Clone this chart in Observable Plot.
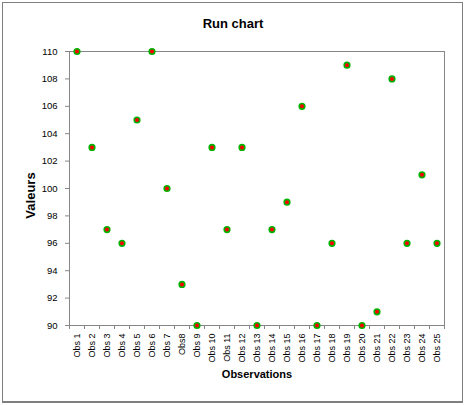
<!DOCTYPE html>
<html>
<head>
<meta charset="utf-8">
<script src="https://cdn.jsdelivr.net/npm/d3@7"></script>
<script src="https://cdn.jsdelivr.net/npm/@observablehq/plot@0.6"></script>
<style>
  html, body { margin: 0; padding: 0; background: #fff; }
  #wrap { position: relative; width: 464px; height: 405px; overflow: hidden; }
  #border { position: absolute; left: 2px; top: 2px; width: 459px; height: 398px; border: 1px solid #7f7f7f; border-bottom-width: 2px; pointer-events: none; }
</style>
</head>
<body>
<div id="wrap"><div id="border"></div></div>
<script>
const categories = ["Obs 1","Obs 2","Obs 3","Obs 4","Obs 5","Obs 6","Obs 7","Obs8","Obs 9","Obs 10",
  "Obs 11","Obs 12","Obs 13","Obs 14","Obs 15","Obs 16","Obs 17","Obs 18","Obs 19","Obs 20",
  "Obs 21","Obs 22","Obs 23","Obs 24","Obs 25"];
const values = [110,103,97,96,105,110,100,93,90,103,97,103,90,97,99,106,90,96,109,90,91,108,96,101,96];
const yTicks = [90,92,94,96,98,100,102,104,106,108,110];
const title = "Run chart";
const xTitle = "Observations";
const yTitle = "Valeurs";

const data = categories.map((c, i) => ({ idx: i + 1, cat: c, val: values[i] }));
const n = categories.length;
const centers = d3.range(1, n + 1);
const bounds = d3.range(0.5, n + 1, 1);

const font = "'Liberation Sans', Arial, sans-serif";

const chart = Plot.plot({
  width: 464,
  height: 405,
  marginLeft: 69,
  marginRight: 20,
  marginTop: 51,
  marginBottom: 80,
  style: { fontFamily: font, fontSize: "10px", background: "transparent", color: "black" },
  x: { type: "linear", domain: [0.5, n + 0.5] },
  y: { domain: [90, 110] },
  marks: [
    Plot.frame({ stroke: "#868686", strokeWidth: 1 }),
    Plot.axisY({ ticks: yTicks, tickSize: 4, tickPadding: 8, stroke: "#868686", fill: "black", label: null, fontSize: 9.5 }),
    Plot.axisX({ ticks: bounds, tickSize: 4, tickFormat: () => "", stroke: "#868686", label: null }),
    Plot.axisX({ ticks: centers, tickSize: 0, tickPadding: 8, tickRotate: -90, tickFormat: (d) => categories[d - 1], fill: "black", label: null, fontSize: 9 }),
    Plot.dot(data, { x: "idx", y: "val", r: 2.8, fill: "#ff0000", stroke: "#00b400", strokeWidth: 1.6 }),
    Plot.text([title], { frameAnchor: "top", lineAnchor: "middle", dx: -24, dy: -27.5, fontWeight: "bold", fontSize: 13, fill: "black" }),
    Plot.text([xTitle], { frameAnchor: "bottom", lineAnchor: "middle", dy: 48.5, fontWeight: "bold", fontSize: 11, fill: "black" }),
    Plot.text([yTitle], { frameAnchor: "left", textAnchor: "middle", lineAnchor: "middle", dx: -38.5, dy: 7, rotate: -90, fontWeight: "bold", fontSize: 13, fill: "black" })
  ]
});
document.getElementById("wrap").prepend(chart);
</script>
</body>
</html>
